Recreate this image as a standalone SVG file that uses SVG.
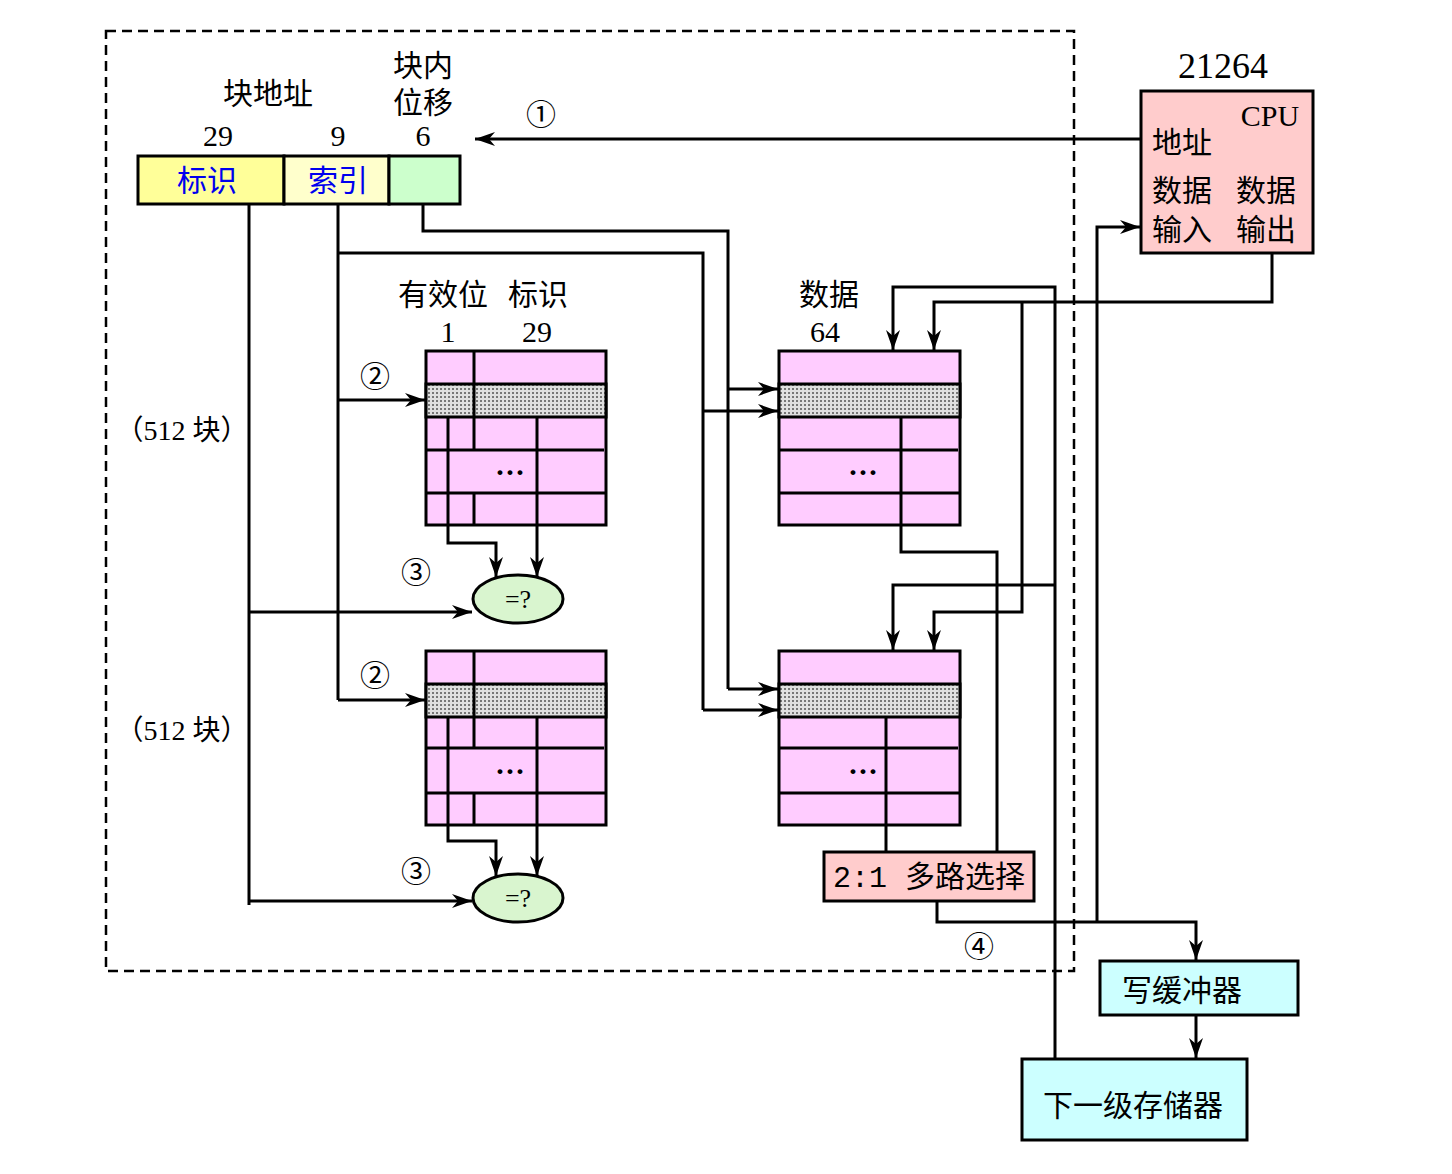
<svg xmlns="http://www.w3.org/2000/svg" width="1452" height="1174" viewBox="0 0 1452 1174">
<style>
text{font-family:"Liberation Serif","Noto Sans CJK SC",serif;font-size:30px;fill:#000}
.c{text-anchor:middle}
.b{stroke:#000;stroke-width:3}
.w{fill:none;stroke:#000;stroke-width:3}
.pk{fill:#ffccff}
.gr{fill:url(#dots)}
</style>
<defs>
<pattern id="dots" width="4" height="4" patternUnits="userSpaceOnUse"><rect width="4" height="4" fill="#e0e0e0"/><rect width="2" height="2" fill="#777"/></pattern>
<marker id="a" viewBox="0 0 20 14" refX="20" refY="7" markerWidth="20" markerHeight="14" markerUnits="userSpaceOnUse" orient="auto"><path d="M0,0L20,7L0,14L6,7z" fill="#000"/></marker>
</defs>
<rect x="106" y="31" width="968" height="940" fill="none" stroke="#000" stroke-width="2.5" stroke-dasharray="10,6"/>

<g id="addr">
<rect x="138" y="156" width="146" height="48" fill="#ffff99" class="b"/>
<rect x="284" y="156" width="105" height="48" fill="#ffffcc" class="b"/>
<rect x="389" y="156" width="71" height="48" fill="#ccffcc" class="b"/>
<text x="207" y="191" class="c" style="fill:#0000ee">标识</text>
<text x="338" y="191" class="c" style="fill:#0000ee">索引</text>
<text x="268" y="104" class="c">块地址</text>
<text x="218" y="146" class="c">29</text>
<text x="338" y="146" class="c">9</text>
<text x="423" y="146" class="c">6</text>
<text x="423" y="76" class="c">块内</text>
<text x="423" y="113" class="c">位移</text>
</g>

<g id="cpu">
<rect x="1141" y="91" width="172" height="162" fill="#ffcccc" class="b"/>
<text x="1223" y="78" class="c" style="font-size:36px">21264</text>
<text x="1270" y="126" class="c">CPU</text>
<text x="1152" y="153">地址</text>
<text x="1152" y="201">数据</text>
<text x="1236" y="201">数据</text>
<text x="1152" y="240">输入</text>
<text x="1236" y="240">输出</text>
</g>

<g id="tag1">
<rect x="426" y="351" width="180" height="174" class="pk b"/>
<rect x="426" y="384" width="180" height="33" class="gr b"/>
<path class="w" d="M474,351V417M426,450H604M426,493H606M474,417V450M474,493V525"/>
<text x="510" y="482" class="c" style="font-weight:bold">···</text>
</g>
<g id="tag2">
<rect x="426" y="651" width="180" height="174" class="pk b"/>
<rect x="426" y="684" width="180" height="33" class="gr b"/>
<path class="w" d="M474,651V717M426,748H604M426,793H606M474,717V748M474,793V825"/>
<text x="510" y="781" class="c" style="font-weight:bold">···</text>
</g>
<g id="data1">
<rect x="779" y="351" width="181" height="174" class="pk b"/>
<rect x="779" y="384" width="181" height="33" class="gr b"/>
<path class="w" d="M779,450H958M779,493H960"/>
<text x="863" y="482" class="c" style="font-weight:bold">···</text>
</g>
<g id="data2">
<rect x="779" y="651" width="181" height="174" class="pk b"/>
<rect x="779" y="684" width="181" height="33" class="gr b"/>
<path class="w" d="M779,748H958M779,793H960"/>
<text x="863" y="781" class="c" style="font-weight:bold">···</text>
</g>
<g id="cmp1"><ellipse cx="518" cy="599" rx="45" ry="24" fill="#d9f5cf" class="b"/><text x="518" y="608" class="c" style="font-size:26px">=?</text></g>
<g id="cmp2"><ellipse cx="518" cy="898" rx="45" ry="24" fill="#d9f5cf" class="b"/><text x="518" y="907" class="c" style="font-size:26px">=?</text></g>
<g id="mux"><rect x="824" y="852" width="210" height="49" fill="#ffcccc" class="b"/><text x="929" y="887" class="c" style="font-family:'Liberation Mono','Noto Sans CJK SC',monospace">2:1 多路选择</text></g>
<g id="wb"><rect x="1100" y="961" width="198" height="54" fill="#ccffff" class="b"/><text x="1182" y="1001" class="c">写缓冲器</text></g>
<g id="mem"><rect x="1022" y="1059" width="225" height="81" fill="#ccffff" class="b"/><text x="1133" y="1116" class="c">下一级存储器</text></g>

<g id="labels">
<text x="443" y="305" class="c">有效位</text>
<text x="538" y="305" class="c">标识</text>
<text x="448" y="342" class="c">1</text>
<text x="537" y="342" class="c">29</text>
<text x="829" y="305" class="c">数据</text>
<text x="825" y="342" class="c">64</text>
<text x="182" y="440" class="c" style="font-size:28px">（512 块）</text>
<text x="182" y="740" class="c" style="font-size:28px">（512 块）</text>
<text x="541" y="125" class="c">①</text>
<text x="375" y="387" class="c">②</text>
<text x="375" y="686" class="c">②</text>
<text x="416" y="583" class="c">③</text>
<text x="416" y="882" class="c">③</text>
<text x="979" y="957" class="c">④</text>
</g>

<g id="connectors" class="w">
<path d="M1141,139H475" marker-end="url(#a)"/>
<path d="M249,205V905"/>
<path d="M249,612H472" marker-end="url(#a)"/>
<path d="M249,901H472" marker-end="url(#a)"/>
<path d="M338,205V700"/>
<path d="M338,400H425" marker-end="url(#a)"/>
<path d="M338,700H425" marker-end="url(#a)"/>
<path d="M338,253H703V710"/>
<path d="M703,411H778" marker-end="url(#a)"/>
<path d="M703,710H778" marker-end="url(#a)"/>
<path d="M423,205V231H728V689"/>
<path d="M728,389H778" marker-end="url(#a)"/>
<path d="M728,689H778" marker-end="url(#a)"/>
<path d="M448,417V543H496V577" marker-end="url(#a)"/>
<path d="M537,417V577" marker-end="url(#a)"/>
<path d="M448,717V841H496V876" marker-end="url(#a)"/>
<path d="M537,717V876" marker-end="url(#a)"/>
<path d="M901,417V552H997V852"/>
<path d="M886,717V852"/>
<path d="M937,901V922H1196V960" marker-end="url(#a)"/>
<path d="M1097,922V227H1140" marker-end="url(#a)"/>
<path d="M1272,253V302H934V350" marker-end="url(#a)"/>
<path d="M1022,302V612H934V650" marker-end="url(#a)"/>
<path d="M1055,1059V287H893V350" marker-end="url(#a)"/>
<path d="M1055,585H893V650" marker-end="url(#a)"/>
<path d="M1196,1015V1058" marker-end="url(#a)"/>
</g>
</svg>
